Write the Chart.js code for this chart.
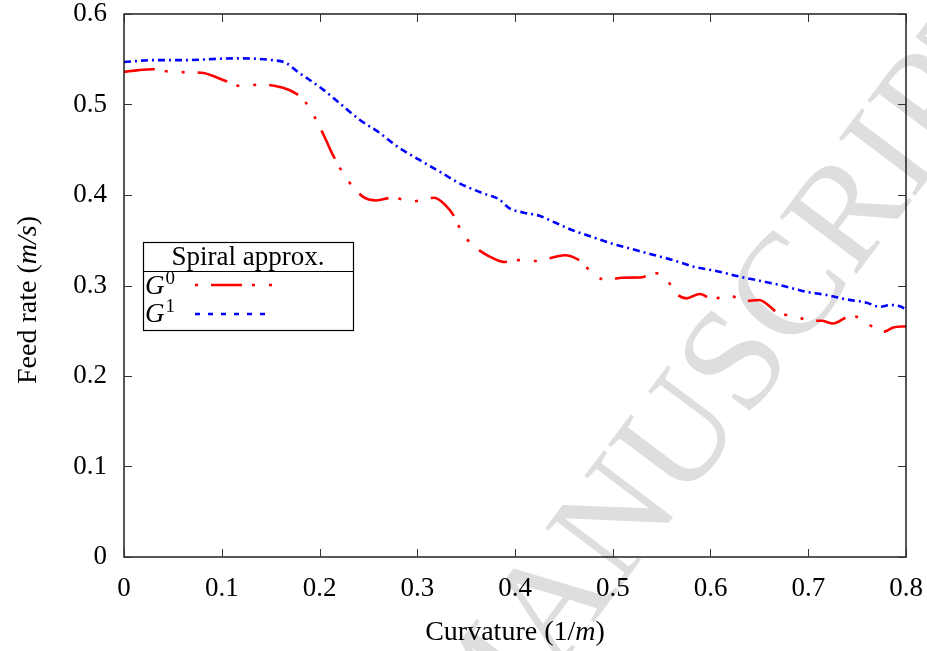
<!DOCTYPE html>
<html>
<head>
<meta charset="utf-8">
<script src="https://cdn.jsdelivr.net/npm/chart.js@4.4.1/dist/chart.umd.min.js"></script>
<style>
  html, body { margin: 0; padding: 0; background: #ffffff; }
  #wrap { width: 927px; height: 651px; position: relative; }
</style>
</head>
<body>
<div id="wrap"><canvas id="c" width="927" height="651"></canvas></div>
<script>
// ---- data ----
const g0Curvature = [0.000, 0.015, 0.029, 0.049, 0.080, 0.090, 0.104, 0.121, 0.138, 0.155, 0.169, 0.181, 0.190, 0.198, 0.207, 0.212, 0.2235, 0.2305, 0.244, 0.258, 0.2747, 0.295, 0.3175, 0.3295, 0.338, 0.346, 0.3565, 0.374, 0.389, 0.4046, 0.420, 0.435, 0.4507, 0.464, 0.483, 0.4934, 0.510, 0.5275, 0.5446, 0.555, 0.565, 0.5754, 0.589, 0.6026, 0.618, 0.635, 0.650, 0.659, 0.671, 0.6846, 0.7017, 0.7136, 0.7255, 0.7426, 0.7546, 0.7665, 0.7767, 0.787, 0.800];
const g0FeedRate  = [0.536, 0.538, 0.539, 0.536, 0.535, 0.532, 0.526, 0.520, 0.522, 0.5205, 0.516, 0.508, 0.496, 0.480, 0.460, 0.448, 0.425, 0.414, 0.3985, 0.394, 0.397, 0.393, 0.397, 0.388, 0.376, 0.358, 0.345, 0.332, 0.326, 0.328, 0.327, 0.330, 0.3335, 0.329, 0.3105, 0.306, 0.3086, 0.3088, 0.3135, 0.307, 0.291, 0.2858, 0.2906, 0.285, 0.2895, 0.2828, 0.284, 0.2784, 0.2684, 0.267, 0.261, 0.261, 0.258, 0.266, 0.2636, 0.2536, 0.2488, 0.2536, 0.255];
const g1Curvature = [0.000, 0.029, 0.060, 0.114, 0.152, 0.1656, 0.179, 0.186, 0.203, 0.220, 0.2407, 0.261, 0.2817, 0.302, 0.3227, 0.343, 0.367, 0.384, 0.394, 0.408, 0.425, 0.442, 0.459, 0.4797, 0.500, 0.5207, 0.541, 0.5617, 0.582, 0.609, 0.630, 0.650, 0.671, 0.698, 0.7188, 0.739, 0.7597, 0.773, 0.7836, 0.794, 0.800];
const g1FeedRate  = [0.547, 0.549, 0.549, 0.551, 0.549, 0.546, 0.535, 0.530, 0.517, 0.502, 0.4835, 0.469, 0.452, 0.439, 0.426, 0.413, 0.402, 0.395, 0.3856, 0.3807, 0.377, 0.369, 0.361, 0.3534, 0.346, 0.340, 0.334, 0.328, 0.321, 0.3153, 0.3098, 0.3053, 0.3005, 0.293, 0.2895, 0.2847, 0.281, 0.2765, 0.2784, 0.277, 0.2736];
const xTickValues = [0, 0.1, 0.2, 0.3, 0.4, 0.5, 0.6, 0.7, 0.8];
const xTickLabels = ['0', '0.1', '0.2', '0.3', '0.4', '0.5', '0.6', '0.7', '0.8'];
const yTickValues = [0, 0.1, 0.2, 0.3, 0.4, 0.5, 0.6];
const yTickLabels = ['0', '0.1', '0.2', '0.3', '0.4', '0.5', '0.6'];
const seriesNames = ['0', '1'];   // superscripts of G
const legendTitle = 'Spiral approx.';
const watermarkText = 'MANUSCRIPT';

const FONT = "'Liberation Serif', 'DejaVu Serif', serif";
const RED_DASH = [31, 10, 3, 14, 3, 13];
const BLUE_DASH = [7, 4, 2, 4];

function pts(xs, ys) { return xs.map((x, i) => ({ x: x, y: ys[i] })); }

const decorPlugin = {
  id: 'decor',
  beforeDraw(chart) {
    const ctx = chart.ctx;
    ctx.save();
    ctx.translate(730, 378);
    ctx.rotate(-53 * Math.PI / 180);
    ctx.font = "146px " + FONT;
    ctx.fillStyle = '#dedede';
    ctx.textAlign = 'center';
    ctx.textBaseline = 'middle';
    ctx.fillText(watermarkText, 0, 0);
    ctx.restore();
  },
  afterDraw(chart) {
    const ctx = chart.ctx;
    const a = chart.chartArea;
    const xs = chart.scales.x, ys = chart.scales.y;
    ctx.save();
    // frame
    ctx.strokeStyle = '#111';
    ctx.lineWidth = 1.4;
    ctx.setLineDash([]);
    ctx.strokeRect(a.left, a.top, a.right - a.left, a.bottom - a.top);
    // inward ticks on all sides
    ctx.lineWidth = 1;
    ctx.strokeStyle = '#333';
    const tl = 8;
    ctx.beginPath();
    xTickValues.forEach(v => {
      const px = Math.round(xs.getPixelForValue(v)) + 0.5;
      ctx.moveTo(px, a.bottom); ctx.lineTo(px, a.bottom - tl);
      ctx.moveTo(px, a.top); ctx.lineTo(px, a.top + tl);
    });
    yTickValues.forEach(v => {
      const py = Math.round(ys.getPixelForValue(v)) + 0.5;
      ctx.moveTo(a.left, py); ctx.lineTo(a.left + tl, py);
      ctx.moveTo(a.right, py); ctx.lineTo(a.right - tl, py);
    });
    ctx.stroke();

    // axis titles with italic parts
    ctx.fillStyle = '#000';
    ctx.textBaseline = 'alphabetic';
    function drawParts(parts, cx, cy) {
      let total = 0;
      parts.forEach(p => { ctx.font = p.f; total += ctx.measureText(p.t).width; });
      let x = cx - total / 2;
      ctx.textAlign = 'left';
      parts.forEach(p => { ctx.font = p.f; ctx.fillText(p.t, x, cy); x += ctx.measureText(p.t).width; });
    }
    const nf = "27px " + FONT, itf = "italic 27px " + FONT;
    const tf = "28px " + FONT, titf = "italic 28px " + FONT;
    drawParts([{ t: 'Curvature (1/', f: tf }, { t: 'm', f: titf }, { t: ')', f: tf }], (a.left + a.right) / 2, 640);
    ctx.save();
    ctx.translate(36, 300);
    ctx.rotate(-Math.PI / 2);
    drawParts([{ t: 'Feed rate (', f: tf }, { t: 'm/s', f: titf }, { t: ')', f: tf }], 0, 0);
    ctx.restore();

    // legend box
    const L = 143, R = 353, T = 242, B = 330, S = 271;
    ctx.fillStyle = '#fff';
    ctx.fillRect(L, T, R - L, B - T);
    ctx.strokeStyle = '#000';
    ctx.lineWidth = 1.2;
    ctx.strokeRect(L + 0.5, T + 0.5, R - L, B - T);
    ctx.beginPath(); ctx.moveTo(L, S + 0.5); ctx.lineTo(R, S + 0.5); ctx.stroke();
    ctx.fillStyle = '#000';
    ctx.font = nf; ctx.textAlign = 'center';
    ctx.fillText(legendTitle, (L + R) / 2, 265);
    const rows = [
      { y: 294, ly: 285, ds: chart.data.datasets[0], dash: RED_DASH, off: 58 },
      { y: 322, ly: 314, ds: chart.data.datasets[1], dash: [5, 8], off: 0 }
    ];
    rows.forEach((r, i) => {
      ctx.textAlign = 'left';
      ctx.font = itf;
      ctx.fillText('G', 145, r.y);
      const gw = ctx.measureText('G').width;
      ctx.font = "19px " + FONT;
      ctx.fillText(seriesNames[i], 145 + gw + 1, r.y - 10);
      ctx.save();
      ctx.strokeStyle = r.ds.borderColor;
      ctx.lineWidth = r.ds.borderWidth;
      ctx.lineCap = 'butt';
      ctx.setLineDash(r.dash);
      ctx.lineDashOffset = r.off;
      ctx.beginPath(); ctx.moveTo(195, r.ly); ctx.lineTo(273, r.ly); ctx.stroke();
      ctx.restore();
    });
    ctx.restore();
  }
};

new Chart(document.getElementById('c'), {
  type: 'line',
  data: {
    datasets: [
      { label: 'G0', data: pts(g0Curvature, g0FeedRate), borderColor: '#ff0000', borderWidth: 2.6,
        borderDash: RED_DASH, pointRadius: 0, fill: false, cubicInterpolationMode: 'monotone' },
      { label: 'G1', data: pts(g1Curvature, g1FeedRate), borderColor: '#0000ff', borderWidth: 2.6,
        borderDash: BLUE_DASH, pointRadius: 0, fill: false, cubicInterpolationMode: 'monotone' }
    ]
  },
  options: {
    responsive: false,
    animation: false,
    events: [],
    layout: { padding: { top: 14, right: 21, left: 0, bottom: 0 } },
    plugins: { legend: { display: false }, tooltip: { enabled: false } },
    scales: {
      x: {
        type: 'linear', min: 0, max: 0.8,
        afterBuildTicks: s => { s.ticks = xTickValues.map(v => ({ value: v })); },
        afterFit: s => { s.height = 94; s.paddingLeft = 0; s.paddingRight = 0; s.paddingTop = 0; s.paddingBottom = 0; },
        grid: { display: false }, border: { display: false },
        ticks: { color: '#000', font: { family: FONT, size: 27 }, padding: 8, maxRotation: 0,
                 callback: (v, i) => xTickLabels[i] }
      },
      y: {
        type: 'linear', min: 0, max: 0.6,
        afterBuildTicks: s => { s.ticks = yTickValues.map(v => ({ value: v })); },
        afterFit: s => { s.width = 124; s.paddingLeft = 0; s.paddingRight = 0; s.paddingTop = 0; s.paddingBottom = 0; },
        grid: { display: false }, border: { display: false },
        ticks: { color: '#000', font: { family: FONT, size: 27 }, padding: 9,
                 callback: (v, i) => yTickLabels[i] }
      }
    }
  },
  plugins: [decorPlugin]
});
</script>
</body>
</html>
